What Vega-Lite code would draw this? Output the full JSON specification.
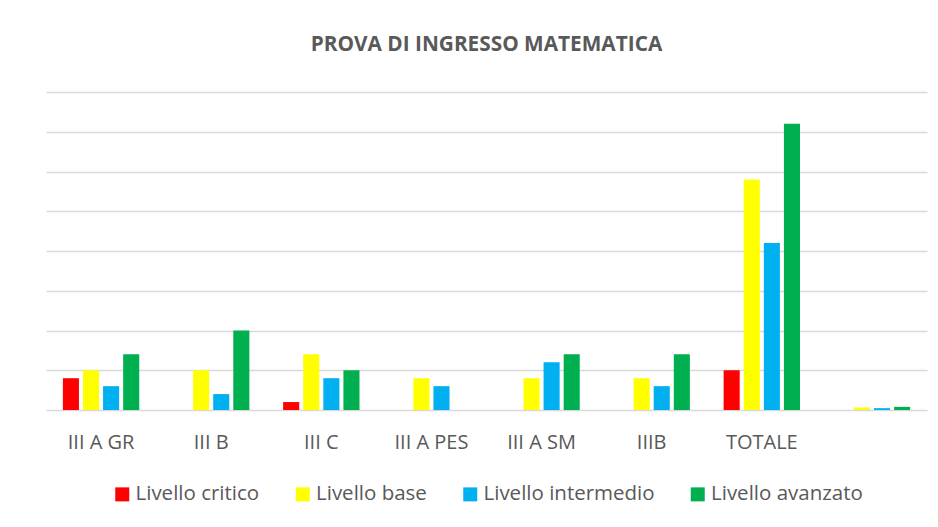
{
  "$schema": "https://vega.github.io/schema/vega-lite/v6.json",
  "width": 881,
  "height": 318,
  "autosize": "none",
  "padding": {"left": 46, "top": 92, "right": 11, "bottom": 117},
  "background": "white",
  "title": {
    "text": "PROVA DI INGRESSO MATEMATICA",
    "font": "Open Sans",
    "fontSize": 20.8,
    "fontWeight": "bold",
    "color": "#595959",
    "anchor": "middle",
    "frame": "group",
    "offset": 36
  },
  "config": {"view": {"stroke": null}, "font": "Open Sans"},
  "data": {
    "values": [
      {"classe": "III A GR", "livello": "Livello critico", "valore": 4},
      {"classe": "III A GR", "livello": "Livello base", "valore": 5},
      {"classe": "III A GR", "livello": "Livello intermedio", "valore": 3},
      {"classe": "III A GR", "livello": "Livello avanzato", "valore": 7},
      {"classe": "III B", "livello": "Livello critico", "valore": 0},
      {"classe": "III B", "livello": "Livello base", "valore": 5},
      {"classe": "III B", "livello": "Livello intermedio", "valore": 2},
      {"classe": "III B", "livello": "Livello avanzato", "valore": 10},
      {"classe": "III C", "livello": "Livello critico", "valore": 1},
      {"classe": "III C", "livello": "Livello base", "valore": 7},
      {"classe": "III C", "livello": "Livello intermedio", "valore": 4},
      {"classe": "III C", "livello": "Livello avanzato", "valore": 5},
      {"classe": "III A PES", "livello": "Livello critico", "valore": 0},
      {"classe": "III A PES", "livello": "Livello base", "valore": 4},
      {"classe": "III A PES", "livello": "Livello intermedio", "valore": 3},
      {"classe": "III A PES", "livello": "Livello avanzato", "valore": 0},
      {"classe": "III A SM", "livello": "Livello critico", "valore": 0},
      {"classe": "III A SM", "livello": "Livello base", "valore": 4},
      {"classe": "III A SM", "livello": "Livello intermedio", "valore": 6},
      {"classe": "III A SM", "livello": "Livello avanzato", "valore": 7},
      {"classe": "IIIB", "livello": "Livello critico", "valore": 0},
      {"classe": "IIIB", "livello": "Livello base", "valore": 4},
      {"classe": "IIIB", "livello": "Livello intermedio", "valore": 3},
      {"classe": "IIIB", "livello": "Livello avanzato", "valore": 7},
      {"classe": "TOTALE", "livello": "Livello critico", "valore": 5},
      {"classe": "TOTALE", "livello": "Livello base", "valore": 29},
      {"classe": "TOTALE", "livello": "Livello intermedio", "valore": 21},
      {"classe": "TOTALE", "livello": "Livello avanzato", "valore": 36},
      {"classe": "", "livello": "Livello critico", "valore": 0},
      {"classe": "", "livello": "Livello base", "valore": 0.319},
      {"classe": "", "livello": "Livello intermedio", "valore": 0.231},
      {"classe": "", "livello": "Livello avanzato", "valore": 0.396}
    ]
  },
  "mark": {"type": "bar"},
  "encoding": {
    "x": {
      "field": "classe",
      "type": "nominal",
      "sort": ["III A GR", "III B", "III C", "III A PES", "III A SM", "IIIB", "TOTALE", ""],
      "scale": {"paddingInner": 0.27, "paddingOuter": 0.135},
      "axis": {
        "title": null,
        "domain": false,
        "ticks": false,
        "labelAngle": 0,
        "labelFont": "Open Sans",
        "labelFontSize": 20,
        "labelColor": "#595959",
        "labelPadding": 22
      }
    },
    "xOffset": {
      "field": "livello",
      "type": "nominal",
      "sort": ["Livello critico", "Livello base", "Livello intermedio", "Livello avanzato"],
      "scale": {"paddingInner": 0.2, "paddingOuter": 0.1}
    },
    "y": {
      "field": "valore",
      "type": "quantitative",
      "scale": {"domain": [0, 40]},
      "axis": {
        "title": null,
        "labels": false,
        "ticks": false,
        "domain": false,
        "values": [0, 5, 10, 15, 20, 25, 30, 35, 40],
        "gridColor": "#d9d9d9",
        "gridWidth": 1.5
      }
    },
    "color": {
      "field": "livello",
      "type": "nominal",
      "sort": ["Livello critico", "Livello base", "Livello intermedio", "Livello avanzato"],
      "scale": {
        "domain": ["Livello critico", "Livello base", "Livello intermedio", "Livello avanzato"],
        "range": ["#FF0000", "#FFFF00", "#00B0F0", "#00B050"]
      },
      "legend": {
        "title": null,
        "orient": "none",
        "direction": "horizontal",
        "legendX": 66,
        "legendY": 392,
        "columns": 4,
        "columnPadding": 32.5,
        "symbolType": "square",
        "symbolSize": 196,
        "symbolStrokeWidth": 0,
        "labelOffset": 3,
        "labelLimit": 0,
        "labelFont": "Open Sans",
        "labelFontSize": 20.5,
        "labelColor": "#595959"
      }
    }
  }
}
